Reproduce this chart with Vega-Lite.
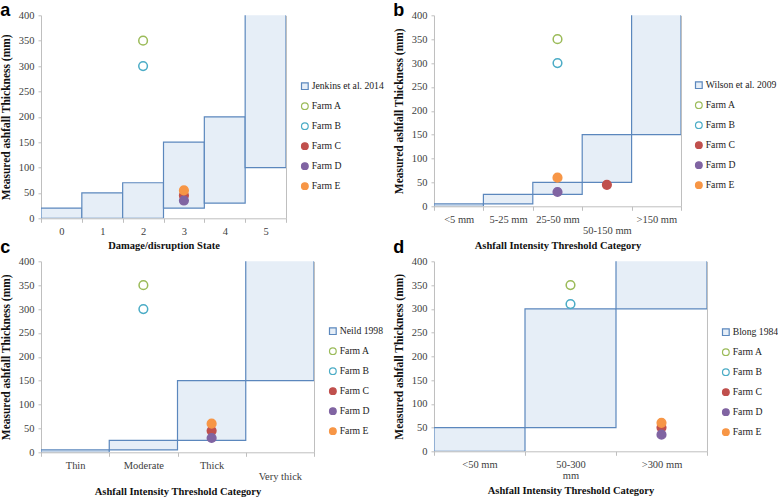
{
  "$schema": "https://vega.github.io/schema/vega-lite/v6.json",
  "padding": {"left": 0, "top": 1.3, "right": 0, "bottom": 0},
  "background": "white",
  "columns": 2,
  "bounds": "flush",
  "spacing": {"row": 43, "column": 120},
  "resolve": {
    "scale": {"fill": "independent", "stroke": "independent", "shape": "independent"},
    "legend": {"fill": "independent", "stroke": "independent", "shape": "independent"}
  },
  "config": {
    "view": {"stroke": null},
    "font": "Liberation Serif",
    "axis": {"grid": false, "domainColor": "#bfbfbf", "tickColor": "#bfbfbf", "labelFont": "Liberation Serif", "labelFontSize": 10.5, "labelColor": "#404040", "titleFont": "Liberation Serif", "titleFontWeight": "bold", "titleColor": "#111111"},
    "axisX": {"labelAngle": 0, "tickSize": 4, "labelPadding": 4, "titleFontSize": 10.5, "titlePadding": 4, "tickBand": "extent", "labelLineHeight": 11.5},
    "axisY": {"tickSize": 3, "labelPadding": 4, "titleFontSize": 11.5, "titlePadding": 7},
    "legend": {"labelFont": "Liberation Serif", "labelFontSize": 9.7, "labelColor": "#222222", "symbolSize": 45, "symbolStrokeWidth": 1.2, "rowPadding": 8, "labelOffset": 2, "orient": "none"},
    "title": {"font": "Liberation Sans", "fontSize": 18, "fontWeight": "bold", "anchor": "start", "frame": "bounds", "baseline": "alphabetic", "color": "#000000"}
  },
  "concat": [
    {
      "title": {"text": "a", "offset": -9.5},
      "width": 245,
      "height": 203,
      "encoding": {
        "x": {"field": "cat", "type": "ordinal", "scale": {"type": "band", "domain": ["0", "1", "2", "3", "4", "5"], "paddingInner": 0, "paddingOuter": 0}, "axis": {"title": "Damage/disruption State"}},
        "fill": {"field": "series", "type": "nominal", "scale": {"domain": ["Jenkins et al. 2014", "Farm A", "Farm B", "Farm C", "Farm D", "Farm E"], "range": ["#e6eef7", "#ffffff", "#ffffff", "#c0504d", "#8064a2", "#f79646"]}, "legend": {"title": null, "legendX": 259, "legendY": 66}},
        "stroke": {"field": "series", "type": "nominal", "scale": {"domain": ["Jenkins et al. 2014", "Farm A", "Farm B", "Farm C", "Farm D", "Farm E"], "range": ["#5b87bd", "#9bbb59", "#4bacc6", "#c0504d", "#8064a2", "#f79646"]}, "legend": {"title": null, "legendX": 259, "legendY": 66}}
      },
      "layer": [
        {
          "data": {"values": [
            {"series": "Jenkins et al. 2014", "cat": "0", "low": 0, "high": 20},
            {"series": "Jenkins et al. 2014", "cat": "1", "low": 0, "high": 50},
            {"series": "Jenkins et al. 2014", "cat": "2", "low": 0, "high": 70},
            {"series": "Jenkins et al. 2014", "cat": "3", "low": 20, "high": 150},
            {"series": "Jenkins et al. 2014", "cat": "4", "low": 30, "high": 200},
            {"series": "Jenkins et al. 2014", "cat": "5", "low": 100, "high": 450}
          ]},
          "mark": {"type": "rect", "strokeWidth": 1.2, "clip": true},
          "encoding": {
            "y": {"field": "low", "type": "quantitative", "scale": {"domain": [0, 400]}, "axis": {"orient": "left", "title": "Measured ashfall Thickness (mm)", "values": [0, 50, 100, 150, 200, 250, 300, 350, 400]}},
            "y2": {"field": "high"}
          }
        },
        {
          "data": {"values": [
            {"series": "Farm A", "cat": "2", "value": 350},
            {"series": "Farm B", "cat": "2", "value": 300},
            {"series": "Farm C", "cat": "3", "value": 45},
            {"series": "Farm D", "cat": "3", "value": 35},
            {"series": "Farm E", "cat": "3", "value": 55}
          ]},
          "mark": {"type": "point", "filled": true, "opacity": 1, "size": 75, "strokeWidth": 1.5},
          "encoding": {
            "y": {"field": "value", "type": "quantitative", "scale": {"domain": [0, 400]}, "axis": {"orient": "right", "labels": false, "ticks": false, "title": null, "values": []}},
            "shape": {"field": "series", "type": "nominal", "scale": {"domain": ["Jenkins et al. 2014", "Farm A", "Farm B", "Farm C", "Farm D", "Farm E"], "range": ["square", "circle", "circle", "circle", "circle", "circle"]}, "legend": {"title": null, "legendX": 259, "legendY": 66}}
          }
        }
      ],
      "resolve": {"axis": {"y": "independent"}}
    },
    {
      "title": {"text": "b", "offset": -9.5},
      "width": 247,
      "height": 191,
      "encoding": {
        "x": {"field": "cat", "type": "ordinal", "scale": {"type": "band", "domain": ["<5 mm", "5-25 mm", "25-50 mm", "50-150 mm", ">150 mm"], "paddingInner": 0, "paddingOuter": 0}, "axis": {"title": "Ashfall Intensity Threshold Category", "labelExpr": "datum.value == '50-150 mm' ? ['', '50-150 mm'] : datum.label"}},
        "fill": {"field": "series", "type": "nominal", "scale": {"domain": ["Wilson et al. 2009", "Farm A", "Farm B", "Farm C", "Farm D", "Farm E"], "range": ["#e6eef7", "#ffffff", "#ffffff", "#c0504d", "#8064a2", "#f79646"]}, "legend": {"title": null, "legendX": 260, "legendY": 65}},
        "stroke": {"field": "series", "type": "nominal", "scale": {"domain": ["Wilson et al. 2009", "Farm A", "Farm B", "Farm C", "Farm D", "Farm E"], "range": ["#5b87bd", "#9bbb59", "#4bacc6", "#c0504d", "#8064a2", "#f79646"]}, "legend": {"title": null, "legendX": 260, "legendY": 65}}
      },
      "layer": [
        {
          "data": {"values": [
            {"series": "Wilson et al. 2009", "cat": "<5 mm", "low": 0, "high": 5},
            {"series": "Wilson et al. 2009", "cat": "5-25 mm", "low": 5, "high": 25},
            {"series": "Wilson et al. 2009", "cat": "25-50 mm", "low": 25, "high": 50},
            {"series": "Wilson et al. 2009", "cat": "50-150 mm", "low": 50, "high": 150},
            {"series": "Wilson et al. 2009", "cat": ">150 mm", "low": 150, "high": 450}
          ]},
          "mark": {"type": "rect", "strokeWidth": 1.2, "clip": true},
          "encoding": {
            "y": {"field": "low", "type": "quantitative", "scale": {"domain": [0, 400]}, "axis": {"orient": "left", "title": "Measured ashfall Thickness (mm)", "values": [0, 50, 100, 150, 200, 250, 300, 350, 400]}},
            "y2": {"field": "high"}
          }
        },
        {
          "data": {"values": [
            {"series": "Farm A", "cat": "25-50 mm", "value": 350},
            {"series": "Farm B", "cat": "25-50 mm", "value": 300},
            {"series": "Farm C", "cat": "50-150 mm", "value": 45},
            {"series": "Farm D", "cat": "25-50 mm", "value": 30},
            {"series": "Farm E", "cat": "25-50 mm", "value": 60}
          ]},
          "mark": {"type": "point", "filled": true, "opacity": 1, "size": 75, "strokeWidth": 1.5},
          "encoding": {
            "y": {"field": "value", "type": "quantitative", "scale": {"domain": [0, 400]}, "axis": {"orient": "right", "labels": false, "ticks": false, "title": null, "values": []}},
            "shape": {"field": "series", "type": "nominal", "scale": {"domain": ["Wilson et al. 2009", "Farm A", "Farm B", "Farm C", "Farm D", "Farm E"], "range": ["square", "circle", "circle", "circle", "circle", "circle"]}, "legend": {"title": null, "legendX": 260, "legendY": 65}}
          }
        }
      ],
      "resolve": {"axis": {"y": "independent"}}
    },
    {
      "title": {"text": "c", "offset": -1},
      "width": 273,
      "height": 191,
      "encoding": {
        "x": {"field": "cat", "type": "ordinal", "scale": {"type": "band", "domain": ["Thin", "Moderate", "Thick", "Very thick"], "paddingInner": 0, "paddingOuter": 0}, "axis": {"title": "Ashfall Intensity Threshold Category", "labelExpr": "datum.value == 'Very thick' ? ['', 'Very thick'] : datum.label"}},
        "fill": {"field": "series", "type": "nominal", "scale": {"domain": ["Neild 1998", "Farm A", "Farm B", "Farm C", "Farm D", "Farm E"], "range": ["#e6eef7", "#ffffff", "#ffffff", "#c0504d", "#8064a2", "#f79646"]}, "legend": {"title": null, "legendX": 287, "legendY": 65}},
        "stroke": {"field": "series", "type": "nominal", "scale": {"domain": ["Neild 1998", "Farm A", "Farm B", "Farm C", "Farm D", "Farm E"], "range": ["#5b87bd", "#9bbb59", "#4bacc6", "#c0504d", "#8064a2", "#f79646"]}, "legend": {"title": null, "legendX": 287, "legendY": 65}}
      },
      "layer": [
        {
          "data": {"values": [
            {"series": "Neild 1998", "cat": "Thin", "low": 0, "high": 5},
            {"series": "Neild 1998", "cat": "Moderate", "low": 5, "high": 25},
            {"series": "Neild 1998", "cat": "Thick", "low": 25, "high": 150},
            {"series": "Neild 1998", "cat": "Very thick", "low": 150, "high": 450}
          ]},
          "mark": {"type": "rect", "strokeWidth": 1.2, "clip": true},
          "encoding": {
            "y": {"field": "low", "type": "quantitative", "scale": {"domain": [0, 400]}, "axis": {"orient": "left", "title": "Measured ashfall Thickness (mm)", "values": [0, 50, 100, 150, 200, 250, 300, 350, 400]}},
            "y2": {"field": "high"}
          }
        },
        {
          "data": {"values": [
            {"series": "Farm A", "cat": "Moderate", "value": 350},
            {"series": "Farm B", "cat": "Moderate", "value": 300},
            {"series": "Farm C", "cat": "Thick", "value": 45},
            {"series": "Farm D", "cat": "Thick", "value": 30},
            {"series": "Farm E", "cat": "Thick", "value": 60}
          ]},
          "mark": {"type": "point", "filled": true, "opacity": 1, "size": 75, "strokeWidth": 1.5},
          "encoding": {
            "y": {"field": "value", "type": "quantitative", "scale": {"domain": [0, 400]}, "axis": {"orient": "right", "labels": false, "ticks": false, "title": null, "values": []}},
            "shape": {"field": "series", "type": "nominal", "scale": {"domain": ["Neild 1998", "Farm A", "Farm B", "Farm C", "Farm D", "Farm E"], "range": ["square", "circle", "circle", "circle", "circle", "circle"]}, "legend": {"title": null, "legendX": 287, "legendY": 65}}
          }
        }
      ],
      "resolve": {"axis": {"y": "independent"}}
    },
    {
      "title": {"text": "d", "offset": -1},
      "width": 273,
      "height": 190,
      "encoding": {
        "x": {"field": "cat", "type": "ordinal", "scale": {"type": "band", "domain": ["<50 mm", "50-300 mm", ">300 mm"], "paddingInner": 0, "paddingOuter": 0}, "axis": {"title": "Ashfall Intensity Threshold Category", "labelExpr": "datum.value == '50-300 mm' ? ['50-300', 'mm'] : datum.label"}},
        "fill": {"field": "series", "type": "nominal", "scale": {"domain": ["Blong 1984", "Farm A", "Farm B", "Farm C", "Farm D", "Farm E"], "range": ["#e6eef7", "#ffffff", "#ffffff", "#c0504d", "#8064a2", "#f79646"]}, "legend": {"title": null, "legendX": 287, "legendY": 66}},
        "stroke": {"field": "series", "type": "nominal", "scale": {"domain": ["Blong 1984", "Farm A", "Farm B", "Farm C", "Farm D", "Farm E"], "range": ["#5b87bd", "#9bbb59", "#4bacc6", "#c0504d", "#8064a2", "#f79646"]}, "legend": {"title": null, "legendX": 287, "legendY": 66}}
      },
      "layer": [
        {
          "data": {"values": [
            {"series": "Blong 1984", "cat": "<50 mm", "low": 0, "high": 50},
            {"series": "Blong 1984", "cat": "50-300 mm", "low": 50, "high": 300},
            {"series": "Blong 1984", "cat": ">300 mm", "low": 300, "high": 450}
          ]},
          "mark": {"type": "rect", "strokeWidth": 1.2, "clip": true},
          "encoding": {
            "y": {"field": "low", "type": "quantitative", "scale": {"domain": [0, 400]}, "axis": {"orient": "left", "title": "Measured ashfall Thickness (mm)", "values": [0, 50, 100, 150, 200, 250, 300, 350, 400]}},
            "y2": {"field": "high"}
          }
        },
        {
          "data": {"values": [
            {"series": "Farm A", "cat": "50-300 mm", "value": 350},
            {"series": "Farm B", "cat": "50-300 mm", "value": 310},
            {"series": "Farm C", "cat": ">300 mm", "value": 50},
            {"series": "Farm D", "cat": ">300 mm", "value": 35},
            {"series": "Farm E", "cat": ">300 mm", "value": 60}
          ]},
          "mark": {"type": "point", "filled": true, "opacity": 1, "size": 75, "strokeWidth": 1.5},
          "encoding": {
            "y": {"field": "value", "type": "quantitative", "scale": {"domain": [0, 400]}, "axis": {"orient": "right", "labels": false, "ticks": false, "title": null, "values": []}},
            "shape": {"field": "series", "type": "nominal", "scale": {"domain": ["Blong 1984", "Farm A", "Farm B", "Farm C", "Farm D", "Farm E"], "range": ["square", "circle", "circle", "circle", "circle", "circle"]}, "legend": {"title": null, "legendX": 287, "legendY": 66}}
          }
        }
      ],
      "resolve": {"axis": {"y": "independent"}}
    }
  ]
}
